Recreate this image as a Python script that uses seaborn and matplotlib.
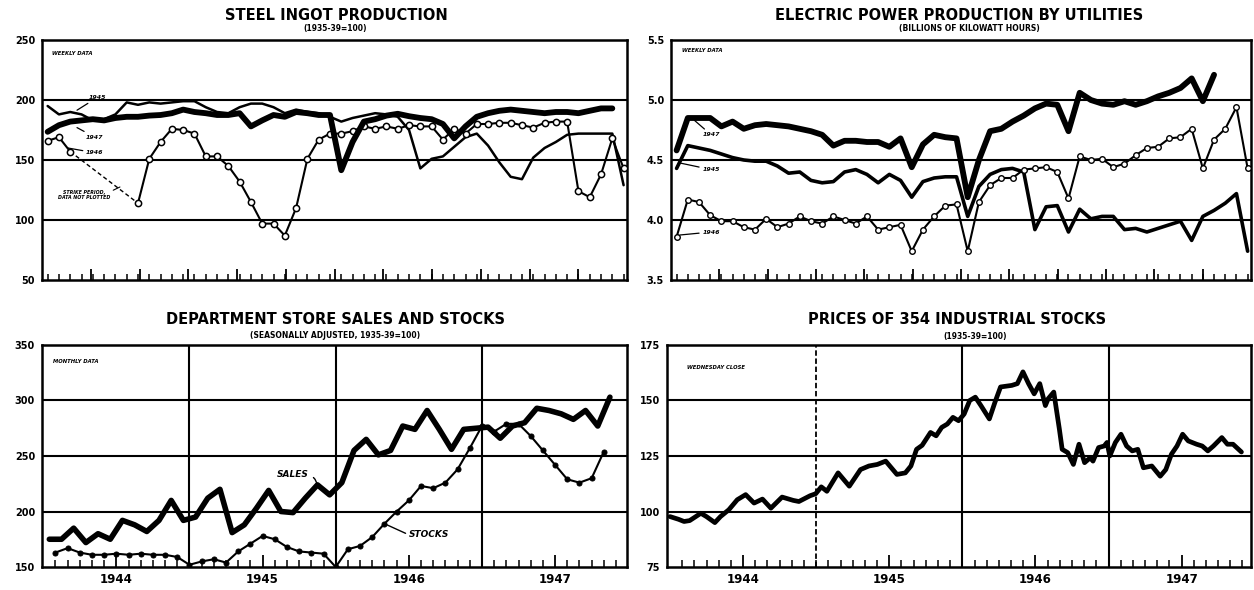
import numpy as np
import pandas as pd
import matplotlib.pyplot as plt
import seaborn as sns

# Plain white style, then the font list (set_theme resets font.family)
sns.set_theme(style='white')
plt.rcParams['font.family'] = ['DejaVu Sans']
plt.rcParams['text.color'] = 'black'
plt.rcParams['xtick.color'] = 'black'
plt.rcParams['ytick.color'] = 'black'

nan = np.nan

# ---------------- Steel ingot production, weekly (1935-39=100) ----------------
steel_1945 = [195, 188, 190, 188, 183, 184, 188, 198, 196, 198, 197, 198, 199, 199, 194, 190,
              189, 194, 197, 197, 194, 189, 192, 190, 189, 186, 182, 185, 187, 189, 188, 186,
              175, 143, 151, 153, 161, 169, 172, 162, 148, 136, 134, 152, 160, 165, 171, 172,
              172, 172, 172, 129]
steel_1946 = [166, 169, 157, nan, nan, nan, nan, nan, 114, 151, 165, 176, 175, 172, 153, 153,
              145, 132, 115, 97, 97, 87, 110, 151, 167, 172, 172, 174, 178, 176, 178, 176,
              179, 178, 178, 167, 176, 172, 180, 180, 181, 181, 179, 177, 181, 182, 182, 124,
              119, 138, 168, 143]
steel_1947 = [173.5, 179, 182, 183, 184, 183, 185, 186, 186, 187, 187.5, 189, 192, 190, 189, 187.5,
              187.5, 189, 178, 183, 187.5, 186, 190, 189, 187.5, 187.5, 141.5, 165, 182, 184, 187, 188.5,
              186.5, 185, 184, 180, 168, 178, 186, 189, 191, 192, 191, 190, 189, 190, 190, 189,
              191, 193, 193]

# ---------------- Electric power production, weekly (billions of kWh) ----------------
power_1945 = [4.43, 4.62, 4.60, 4.58, 4.55, 4.52, 4.50, 4.49, 4.49, 4.45, 4.39, 4.40, 4.33, 4.31, 4.32, 4.40,
              4.42, 4.38, 4.31, 4.38, 4.33, 4.19, 4.32, 4.35, 4.36, 4.36, 4.03, 4.28, 4.38, 4.42, 4.43, 4.40,
              3.92, 4.11, 4.12, 3.90, 4.09, 4.01, 4.03, 4.03, 3.92, 3.93, 3.90, 3.93, 3.96, 3.99, 3.83, 4.03,
              4.08, 4.14, 4.22, 3.74]
power_1946 = [3.86, 4.17, 4.15, 4.04, 3.99, 3.99, 3.94, 3.92, 4.01, 3.94, 3.97, 4.03, 3.99, 3.97, 4.03, 4.00,
              3.97, 4.03, 3.92, 3.94, 3.96, 3.74, 3.92, 4.03, 4.12, 4.13, 3.74, 4.15, 4.29, 4.35, 4.35, 4.42,
              4.43, 4.44, 4.40, 4.18, 4.53, 4.50, 4.51, 4.44, 4.47, 4.54, 4.60, 4.61, 4.68, 4.69, 4.76, 4.43,
              4.67, 4.76, 4.94, 4.43]
power_1947 = [4.58, 4.85, 4.85, 4.85, 4.78, 4.82, 4.76, 4.79, 4.80, 4.79, 4.78, 4.76, 4.74, 4.71, 4.62, 4.66,
              4.66, 4.65, 4.65, 4.61, 4.68, 4.44, 4.63, 4.71, 4.69, 4.68, 4.19, 4.50, 4.74, 4.76, 4.82, 4.87,
              4.93, 4.97, 4.96, 4.74, 5.06, 5.00, 4.97, 4.96, 4.99, 4.96, 4.99, 5.03, 5.06, 5.10, 5.18, 4.99,
              5.21]

# ---------------- Department store sales and stocks, monthly from Jan 1944 ----------------
sales = [175, 175, 185, 172, 180, 175, 192, 188, 182, 192, 210, 192,
         195, 212, 220, 181, 188, 203, 219, 200, 199, 212, 224, 215,
         226, 255, 265, 251, 255, 277, 274, 291, 274, 256, 274, 275,
         276, 266, 277, 280, 293, 291, 288, 283, 291, 277, 303]
stocks = [163, 167, 163, 161, 161, 162, 161, 162, 161, 161, 159, 152,
          155, 157, 154, 164, 171, 178, 175, 168, 164, 163, 162, 150,
          166, 169, 177, 189, 200, 210, 223, 221, 226, 238, 257, 277,
          272, 279, 279, 268, 255, 242, 229, 226, 230, 254]

# ---------------- Prices of 354 industrial stocks, Wednesday close ----------------
price_week = [0, 3, 5, 7, 11, 13, 16, 18, 21, 24, 27, 30, 33, 36, 40, 44, 46, 50, 52, 54,
              56, 60, 64, 68, 71, 74, 77, 81, 84, 86, 88, 90, 93, 95, 97, 99, 101, 103, 105, 107,
              109, 111, 114, 116, 118, 122, 124, 126, 128, 130, 132, 134, 135, 137, 139, 140, 142, 144, 146, 148,
              150, 151, 153, 155, 156, 157, 159, 161, 163, 165, 167, 169, 172, 175, 177, 179, 181, 183, 185, 188,
              190, 192, 194, 197, 199, 201, 204]
price = [97.7, 96.5, 95.5, 95.9, 99.2, 97.7, 95.0, 97.7, 100.8, 105.3, 107.6, 103.8, 105.6, 101.5, 106.5, 105.0, 104.5, 107.1, 108.0, 111.1,
         109.1, 117.4, 111.4, 118.9, 120.5, 121.2, 122.7, 116.7, 117.4, 120.5, 128.0, 129.8, 135.6, 134.1, 137.9, 139.4, 142.4, 140.9, 143.9, 150.0,
         151.5, 147.7, 141.7, 149.2, 156.1, 156.8, 157.6, 162.9, 157.6, 153.0, 157.6, 147.7, 150.8, 153.8, 137.1, 128.0, 126.5, 121.2, 130.3, 122.0,
         124.2, 122.7, 128.8, 129.5, 131.1, 125.0, 131.1, 134.8, 129.5, 127.3, 128.0, 119.7, 120.5, 115.9, 118.9, 125.8, 129.5, 134.8, 131.8, 130.3,
         129.5, 127.3, 129.5, 133.3, 130.3, 130.3, 126.8]

years = ['1944', '1945', '1946', '1947']

W, H = 1254, 590
fig = plt.figure(figsize=(W / 100, H / 100), dpi=100)


def px_axes(x0, y0, x1, y1):
    # axes placed by pixel edges of the reference picture
    return fig.add_axes([x0 / W, 1 - y1 / H, (x1 - x0) / W, (y1 - y0) / H])


def frame(ax, lo, hi, step, fmt):
    ticks = np.arange(lo, hi + step / 2, step)
    ax.set_ylim(lo, hi)
    ax.set_yticks(ticks)
    ax.set_yticklabels([fmt.format(t) for t in ticks], fontsize=7, fontweight='bold')
    for t in ticks[1:-1]:
        ax.axhline(t, color='black', lw=1.5, zorder=1)
    for s in ax.spines.values():
        s.set_visible(True)
        s.set_color('black')
        s.set_linewidth(1.8)
    ax.tick_params(axis='y', length=0, pad=5)
    ax.set_xlabel('')
    ax.set_ylabel('')


def week_axis(ax):
    lo, hi = -0.5, 51.3
    ax.set_xlim(lo, hi)
    month = (hi - lo) / 12
    ax.set_xticks([lo + k * month for k in range(1, 12)])
    ax.set_xticks(range(0, 52), minor=True)
    ax.set_xticklabels([])
    ax.tick_params(axis='x', which='major', direction='in', length=8, width=1.3, bottom=True)
    ax.tick_params(axis='x', which='minor', direction='in', length=4, width=1.1, bottom=True)


def month_axis(ax, lo, hi, dashed_first=False):
    ax.set_xlim(lo, hi)
    ax.set_xticks([6, 18, 30, 42])
    ax.set_xticklabels(years, fontsize=8.5, fontweight='bold')
    ax.set_xticks([m for m in range(1, 48) if m % 6 != 0 or m % 12 == 0], minor=True)
    ax.tick_params(axis='x', which='major', direction='in', length=9, width=1.3, bottom=True, pad=4)
    ax.tick_params(axis='x', which='minor', direction='in', length=5, width=1.1, bottom=True)
    for k, m in enumerate([12, 24, 36]):
        if dashed_first and k == 0:
            ax.axvline(m, color='black', lw=1.3, ls=(0, (3, 1.5)), zorder=1)
        else:
            ax.axvline(m, color='black', lw=1.5, zorder=1)


def tiny(ax, x, y, s, size=3.8, **kw):
    ax.text(x, y, s, fontsize=size, fontweight='bold', style='italic', **kw)


def label(ax, s, xy, xytext, size=4.5):
    ax.annotate(s, xy=xy, xytext=xytext, fontsize=size, fontweight='bold', style='italic',
                va='center', ha='left',
                arrowprops=dict(arrowstyle='-', color='black', lw=0.9, shrinkA=0, shrinkB=0))


# ---------------- Steel panel ----------------
ax = px_axes(42, 40, 627, 280)
wk = np.arange(52)
s46 = pd.Series(steel_1946, index=wk)
sns.lineplot(x=wk, y=steel_1945, ax=ax, color='black', lw=1.8, zorder=3)
early = s46.loc[:2]
late = s46.loc[8:]
ax.plot([2, 8], [s46[2], s46[8]], color='black', lw=1.0, ls=(0, (3, 2)), zorder=3)
for part in (early, late):
    sns.lineplot(x=part.index, y=part.values, ax=ax, color='black', lw=1.5, marker='o',
                 markersize=4.5, markerfacecolor='white', markeredgecolor='black',
                 markeredgewidth=1.1, zorder=4)
sns.lineplot(x=np.arange(len(steel_1947)), y=steel_1947, ax=ax, color='black', lw=4.2, zorder=5)
frame(ax, 50, 250, 50, '{:.0f}')
week_axis(ax)
tiny(ax, 0.017, 0.945, 'WEEKLY DATA', transform=ax.transAxes, va='center')
label(ax, '1945', (2.6, 191.5), (3.6, 202))
label(ax, '1947', (2.6, 177), (3.4, 169))
label(ax, '1946', (1.8, 160), (3.4, 156))
ax.annotate('STRIKE PERIOD,\nDATA NOT PLOTTED', xy=(6.4, 127.5), xytext=(3.2, 121),
            fontsize=3.4, fontweight='bold', style='italic', ha='center', va='center', linespacing=1.0,
            arrowprops=dict(arrowstyle='-', color='black', lw=0.8, shrinkA=0, shrinkB=0,
                            relpos=(1.0, 0.8)))

# ---------------- Electric power panel ----------------
ax = px_axes(671, 40, 1251, 280)
sns.lineplot(x=wk, y=power_1945, ax=ax, color='black', lw=2.6, zorder=3)
sns.lineplot(x=wk, y=power_1946, ax=ax, color='black', lw=1.5, marker='o', markersize=4,
             markerfacecolor='white', markeredgecolor='black', markeredgewidth=1.0, zorder=4)
sns.lineplot(x=np.arange(len(power_1947)), y=power_1947, ax=ax, color='black', lw=4.2, zorder=5)
frame(ax, 3.5, 5.5, 0.5, '{:.1f}')
week_axis(ax)
tiny(ax, 0.019, 0.955, 'WEEKLY DATA', transform=ax.transAxes, va='center')
label(ax, '1947', (1.6, 4.83), (2.3, 4.71))
label(ax, '1945', (0.3, 4.475), (2.3, 4.42))
label(ax, '1946', (0.3, 3.875), (2.3, 3.90))

# ---------------- Department store panel ----------------
ax = px_axes(42, 345, 627, 567)
sns.lineplot(x=np.arange(len(stocks)) + 1.0, y=stocks, ax=ax, color='black', lw=1.5, marker='o',
             markersize=3.6, markerfacecolor='black', markeredgecolor='black', zorder=3)
sns.lineplot(x=np.arange(len(sales)) + 0.5, y=sales, ax=ax, color='black', lw=4.0, zorder=4)
frame(ax, 150, 350, 50, '{:.0f}')
month_axis(ax, -0.1, 47.9)
tiny(ax, 0.019, 0.925, 'MONTHLY DATA', transform=ax.transAxes, va='center')
ax.annotate('SALES', xy=(22.5, 223), xytext=(19.2, 233), fontsize=6.5, fontweight='bold',
            style='italic', ha='left', va='center',
            arrowprops=dict(arrowstyle='-', color='black', lw=1.0, shrinkA=1, shrinkB=0,
                            relpos=(1.0, 0.5), connectionstyle='arc3,rad=-0.3'))
ax.annotate('STOCKS', xy=(28.0, 189), xytext=(30.0, 179), fontsize=6.5, fontweight='bold',
            style='italic', ha='left', va='center',
            arrowprops=dict(arrowstyle='-', color='black', lw=1.0, shrinkA=0, shrinkB=0,
                            relpos=(0.0, 0.5)))

# ---------------- Industrial stock prices panel ----------------
ax = px_axes(667, 345, 1251, 567)
sns.lineplot(x=np.array(price_week) * 12 / 52.18, y=price, ax=ax, color='black', lw=3.4, zorder=4)
frame(ax, 75, 175, 25, '{:.0f}')
month_axis(ax, -0.25, 47.7, dashed_first=True)
tiny(ax, 0.034, 0.90, 'WEDNESDAY CLOSE', transform=ax.transAxes, va='center')

# ---------------- Titles ----------------
titles = [
    (336, 'STEEL INGOT PRODUCTION', 15, '(1935-39=100)', 335, 29),
    (959, 'ELECTRIC POWER PRODUCTION BY UTILITIES', 15, '(BILLIONS OF KILOWATT HOURS)', 969, 29),
    (335, 'DEPARTMENT STORE SALES AND STOCKS', 320, '(SEASONALLY ADJUSTED, 1935-39=100)', 335, 336),
    (957, 'PRICES OF 354 INDUSTRIAL STOCKS', 319, '(1935-39=100)', 975, 336),
]
for x, t, y, sub, xs, ys in titles:
    fig.text(x / W, 1 - y / H, t, ha='center', va='center', fontsize=10.5, fontweight='heavy')
    fig.text(xs / W, 1 - ys / H, sub, ha='center', va='center', fontsize=5.5, fontweight='bold')

fig.savefig('out.png', dpi=100, facecolor='white')
